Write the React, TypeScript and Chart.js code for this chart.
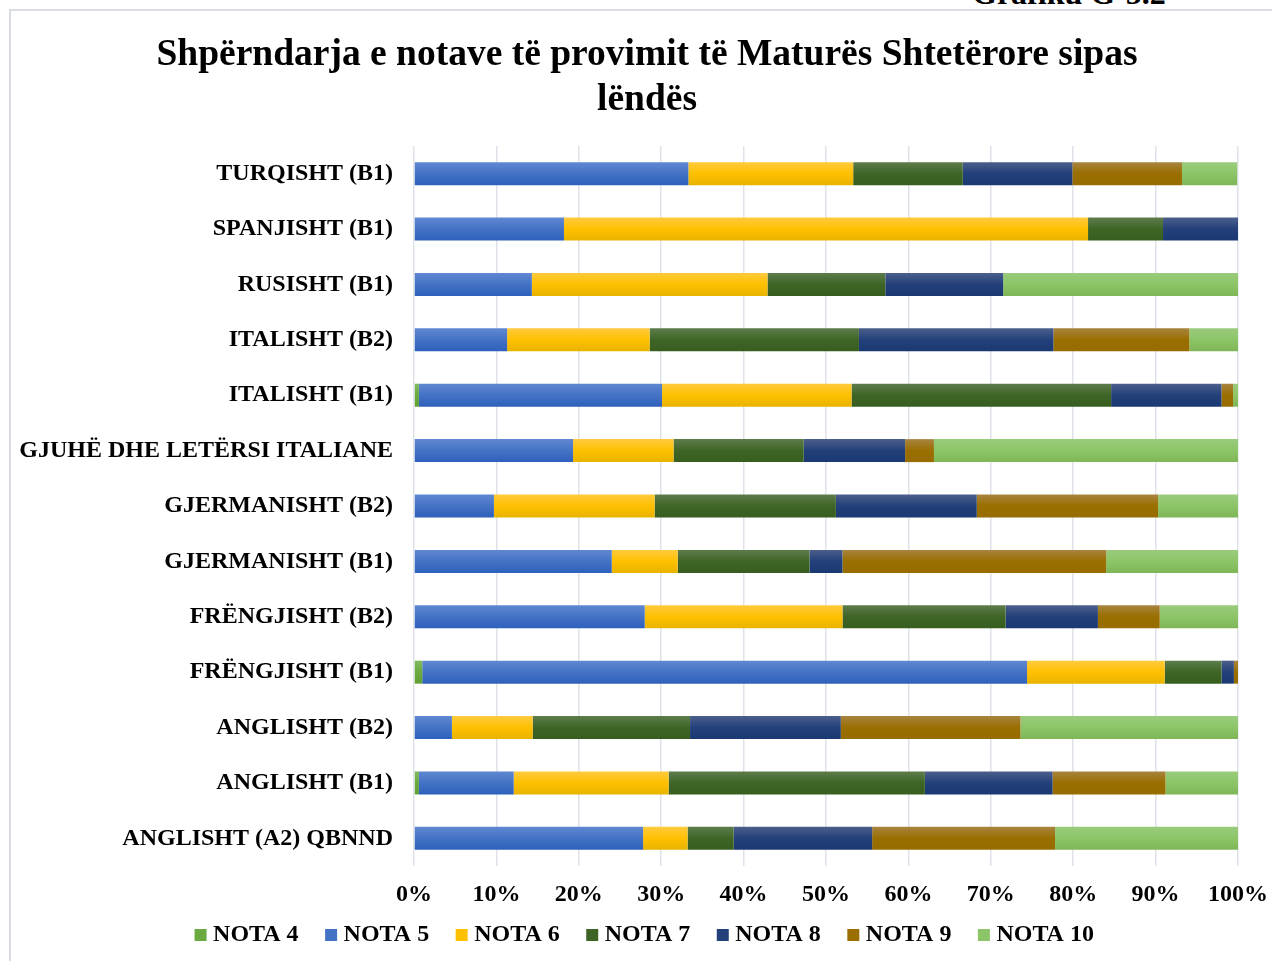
import React, { useEffect, useRef } from "react";
import { Chart, registerables } from "chart.js";

Chart.register(...registerables);

const TITLE_LINES = ["Shpërndarja e notave të provimit të Maturës Shtetërore sipas", "lëndës"];

const CATEGORIES = [
  "TURQISHT (B1)",
  "SPANJISHT (B1)",
  "RUSISHT (B1)",
  "ITALISHT (B2)",
  "ITALISHT (B1)",
  "GJUHË DHE LETËRSI ITALIANE",
  "GJERMANISHT (B2)",
  "GJERMANISHT (B1)",
  "FRËNGJISHT (B2)",
  "FRËNGJISHT (B1)",
  "ANGLISHT (B2)",
  "ANGLISHT (B1)",
  "ANGLISHT (A2) QBNND",
];

const SERIES_NAMES = ["NOTA 4", "NOTA 5", "NOTA 6", "NOTA 7", "NOTA 8", "NOTA 9", "NOTA 10"];

const NOTA_4 = [0, 0, 0, 0, 0.6, 0, 0, 0, 0, 1.0, 0, 0.6, 0];
const NOTA_5 = [33.3, 18.2, 14.3, 11.3, 29.5, 19.3, 9.7, 24.0, 28.0, 73.4, 4.6, 11.5, 27.8];
const NOTA_6 = [20.0, 63.6, 28.6, 17.3, 23.0, 12.2, 19.5, 8.0, 24.0, 16.7, 9.8, 18.8, 5.4];
const NOTA_7 = [13.3, 9.1, 14.3, 25.4, 31.5, 15.8, 22.0, 16.0, 19.8, 6.9, 19.1, 31.1, 5.6];
const NOTA_8 = [13.3, 9.1, 14.3, 23.6, 13.4, 12.3, 17.1, 4.0, 11.2, 1.5, 18.3, 15.5, 16.8];
const NOTA_9 = [13.3, 0, 0, 16.5, 1.4, 3.5, 22.0, 32.0, 7.5, 0.5, 21.8, 13.7, 22.2];
const NOTA_10 = [6.7, 0, 28.6, 5.9, 0.6, 36.9, 9.7, 16.0, 9.5, 0, 26.4, 8.8, 22.2];

const SERIES_VALUES = [NOTA_4, NOTA_5, NOTA_6, NOTA_7, NOTA_8, NOTA_9, NOTA_10];

const X_TICKS = [0, 10, 20, 30, 40, 50, 60, 70, 80, 90, 100];

// [top, mid, bottom] colours per series
const SERIES_COLORS: string[][] = [
  ["#82ba5e", "#6aaa40", "#5f9f32"],
  ["#6088d2", "#4472c4", "#2e61bc"],
  ["#ffca3e", "#ffc000", "#e8b300"],
  ["#5d7c4c", "#3f6526", "#375e1f"],
  ["#4c5f8b", "#23407a", "#1a3872"],
  ["#a8843f", "#9a6e00", "#976c00"],
  ["#9acb7c", "#8cc567", "#7fb657"],
];

const FONT = "'Liberation Serif', 'Times New Roman', serif";

export default function App() {
  const canvasRef = useRef<HTMLCanvasElement | null>(null);

  useEffect(() => {
    const canvas = canvasRef.current;
    if (!canvas) return;

    const datasets = SERIES_NAMES.map((name, si) => ({
      label: name,
      data: SERIES_VALUES[si],
      backgroundColor: (ctx: any) => {
        const cols = SERIES_COLORS[si];
        const chart = ctx.chart;
        const ys = chart && chart.scales ? chart.scales.y : null;
        if (!ys || ctx.type !== "data") return cols[1];
        const c = ys.getPixelForValue(ctx.dataIndex);
        if (!isFinite(c)) return cols[1];
        const g = chart.ctx.createLinearGradient(0, c - 11.5, 0, c + 11.5);
        g.addColorStop(0, cols[0]);
        g.addColorStop(0.5, cols[1]);
        g.addColorStop(1, cols[2]);
        return g;
      },
      borderWidth: 0,
      barPercentage: 0.415,
      categoryPercentage: 1,
    }));

    const chart = new Chart(canvas, {
      type: "bar",
      data: { labels: CATEGORIES, datasets },
      options: {
        indexAxis: "y",
        responsive: false,
        animation: false,
        devicePixelRatio: 1,
        layout: { padding: { left: 45, right: 34, top: 0, bottom: 4 } },
        scales: {
          x: {
            stacked: true,
            min: 0,
            max: 100,
            afterBuildTicks: (scale: any) => {
              scale.ticks = X_TICKS.map((v) => ({ value: v }));
            },
            afterFit: (scale: any) => {
              scale.height = 25;
              scale.paddingLeft = 0;
              scale.paddingRight = 0;
              scale._computeLabelArea = () => undefined;
            },
            grid: { color: "#dfe2e8", lineWidth: 1.5, drawTicks: false },
            border: { display: false },
            ticks: {
              padding: 14,
              color: "#000",
              font: { family: FONT, size: 24, weight: "bold" },
              callback: (v: any) => `${v}%`,
              maxRotation: 0,
            },
          },
          y: {
            stacked: true,
            afterFit: (scale: any) => {
              scale.width = 358;
              scale._computeLabelArea = () => undefined;
            },
            grid: { display: false, drawTicks: false },
            border: { display: false },
            ticks: {
              padding: 21,
              color: "#000",
              font: { family: FONT, size: 24, weight: "bold" },
              autoSkip: false,
            },
          },
        },
        plugins: {
          title: {
            display: true,
            text: TITLE_LINES,
            color: "#000",
            font: { family: FONT, size: 37.5, weight: "bold", lineHeight: 1.2 },
            padding: { top: 22, bottom: 23 },
          },
          legend: {
            position: "bottom",
            labels: {
              usePointStyle: true,
              boxWidth: 1,
              boxHeight: 12,
              padding: 32,
              color: "#000",
              font: { family: FONT, size: 24, weight: "bold" },
              generateLabels: (ch: any) => {
                const items = Chart.defaults.plugins.legend.labels.generateLabels(ch);
                return items.map((it: any, i: number) => ({
                  ...it,
                  fillStyle: SERIES_COLORS[i][1],
                  strokeStyle: SERIES_COLORS[i][1],
                  lineWidth: 0,
                  pointStyle: "rect",
                  rotation: 0,
                }));
              },
            },
          },
          tooltip: { enabled: false },
        },
      },
    } as any);

    return () => chart.destroy();
  }, []);

  return (
    <div
      style={{
        position: "absolute",
        left: 0,
        top: 0,
        width: 1272,
        height: 961,
        background: "#fff",
        overflow: "hidden",
      }}
    >
      <div
        style={{
          position: "absolute",
          left: 972,
          top: -23,
          fontFamily: FONT,
          fontWeight: "bold",
          fontSize: 32,
          lineHeight: "32px",
          color: "#000",
          whiteSpace: "nowrap",
        }}
      >
        Grafiku G-5.2
      </div>
      <div
        style={{
          position: "absolute",
          left: 9,
          top: 9,
          width: 1300,
          height: 1000,
          borderLeft: "2px solid #d9dce2",
          borderTop: "2px solid #d9dce2",
        }}
      />
      <canvas
        ref={canvasRef}
        width={1261}
        height={950}
        style={{ position: "absolute", left: 11, top: 11, width: 1261, height: 950 }}
      />
    </div>
  );
}
